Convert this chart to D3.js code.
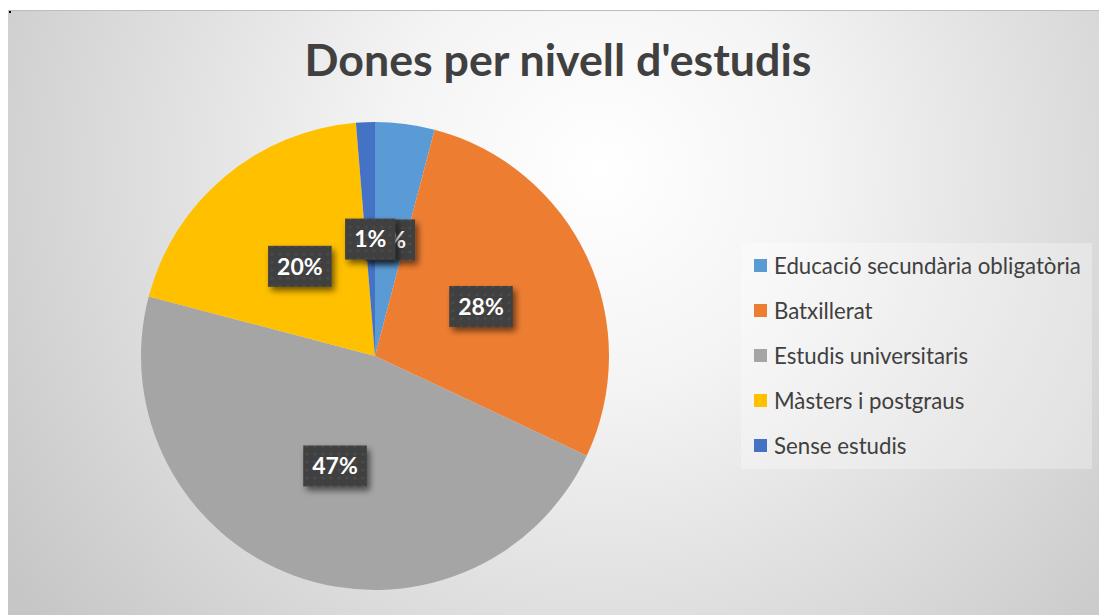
<!DOCTYPE html>
<html>
<head>
<meta charset="utf-8">
<script src="https://cdn.jsdelivr.net/npm/d3@7"></script>
<style>
  html, body { margin: 0; padding: 0; background: #fff; }
  svg { display: block; }
</style>
</head>
<body>
<svg id="chart"></svg>
<script>
// data
const categories = ["Educació secundària obligatòria", "Batxillerat", "Estudis universitaris", "Màsters i postgraus", "Sense estudis"];
const values = [4.1, 27.9, 47.1, 19.6, 1.3];
const colors = ["#5B9BD5", "#ED7D31", "#A5A5A5", "#FFC000", "#4472C4"];
const title = "Dones per nivell d'estudis";

const width = 1099, height = 615;
const cx = 375, cy = 356, radius = 234;

const svg = d3.select("#chart")
    .attr("width", width)
    .attr("height", height);

const defs = svg.append("defs");

// background gradient
const grad = defs.append("radialGradient")
    .attr("id", "bg")
    .attr("gradientUnits", "userSpaceOnUse")
    .attr("cx", 600).attr("cy", 170).attr("r", 720);
grad.append("stop").attr("offset", "0%").attr("stop-color", "#ffffff");
grad.append("stop").attr("offset", "30%").attr("stop-color", "#f4f4f4");
grad.append("stop").attr("offset", "100%").attr("stop-color", "#c6c6c6");

// dotted pattern for data labels
const pat = defs.append("pattern")
    .attr("id", "dots")
    .attr("patternUnits", "userSpaceOnUse")
    .attr("width", 8).attr("height", 8);
pat.append("rect").attr("width", 8).attr("height", 8).attr("fill", "#3f3f3f");
pat.append("circle").attr("cx", 4).attr("cy", 4).attr("r", 1.6).attr("fill", "#4b4b4b");

const shadow = defs.append("filter")
    .attr("id", "shadow")
    .attr("x", "-30%").attr("y", "-30%")
    .attr("width", "170%").attr("height", "170%");
shadow.append("feDropShadow")
    .attr("dx", 3).attr("dy", 4)
    .attr("stdDeviation", 3)
    .attr("flood-color", "#000")
    .attr("flood-opacity", 0.55);

// chart area
svg.append("rect")
    .attr("x", 8).attr("y", 10)
    .attr("width", width - 8).attr("height", height - 10)
    .attr("fill", "url(#bg)");
svg.append("line")
    .attr("x1", 8).attr("x2", width)
    .attr("y1", 10.5).attr("y2", 10.5)
    .attr("stroke", "#bdbdbd");
svg.append("rect")
    .attr("x", 9).attr("y", 11).attr("width", 2).attr("height", 2)
    .attr("fill", "#000");

// title
const titleText = svg.append("text")
    .attr("x", 558).attr("y", 76)
    .attr("text-anchor", "middle")
    .attr("font-family", "Lato, 'Open Sans', sans-serif")
    .attr("font-weight", "bold")
    .attr("font-size", 44)
    .attr("fill", "#404040")
    .text(title);
const tw = titleText.node().getComputedTextLength();
titleText.attr("font-size", 44 * 507 / tw);

// pie
const pie = d3.pie().sort(null).value(d => d)
    .startAngle(0).endAngle(2 * Math.PI);
const arc = d3.arc().innerRadius(0).outerRadius(radius);
const arcs = pie(values);

const g = svg.append("g")
    .attr("transform", `translate(${cx}, ${cy})`);

g.selectAll("path.slice")
    .data(arcs)
    .enter()
    .append("path")
    .attr("class", "slice")
    .attr("d", arc)
    .attr("fill", (d, i) => colors[i]);

// data labels
const labels = g.selectAll("g.label")
    .data(arcs)
    .enter()
    .append("g")
    .attr("class", "label")
    .attr("transform", d => `translate(${arc.centroid(d)})`);

labels.each(function(d) {
    const lg = d3.select(this);
    const rect = lg.append("rect").attr("fill", "url(#dots)").attr("filter", "url(#shadow)");
    const t = lg.append("text")
        .attr("text-anchor", "middle")
        .attr("dy", "0.36em")
        .attr("font-family", "Lato, 'Open Sans', sans-serif")
        .attr("font-weight", "bold")
        .attr("font-size", 23)
        .attr("fill", "#ffffff")
        .text(Math.round(d.value) + "%");
    const w = t.node().getComputedTextLength() + 18;
    const h = 41;
    rect.attr("x", -w / 2).attr("y", -h / 2)
        .attr("width", w).attr("height", h);
});

// legend
const legend = svg.append("g");
legend.append("rect")
    .attr("x", 741).attr("y", 243)
    .attr("width", 351).attr("height", 226)
    .attr("fill", "#ffffff")
    .attr("fill-opacity", 0.3);

const y = d3.scalePoint()
    .domain(categories)
    .range([266, 446]);

const items = legend.selectAll("g.item")
    .data(categories)
    .enter()
    .append("g")
    .attr("class", "item")
    .attr("transform", d => `translate(754, ${y(d)})`);

items.append("rect")
    .attr("x", 0).attr("y", -7)
    .attr("width", 13).attr("height", 13)
    .attr("fill", (d, i) => colors[i]);

items.append("text")
    .attr("x", 20)
    .attr("dy", "0.35em")
    .attr("font-family", "Lato, 'Open Sans', sans-serif")
    .attr("font-size", 20)
    .attr("fill", "#404040")
    .text(d => d);

// fit the legend text to the width seen in the picture
const firstLen = items.select("text").node().getComputedTextLength();
items.selectAll("text").attr("font-size", 20 * 307 / firstLen);
</script>
</body>
</html>
